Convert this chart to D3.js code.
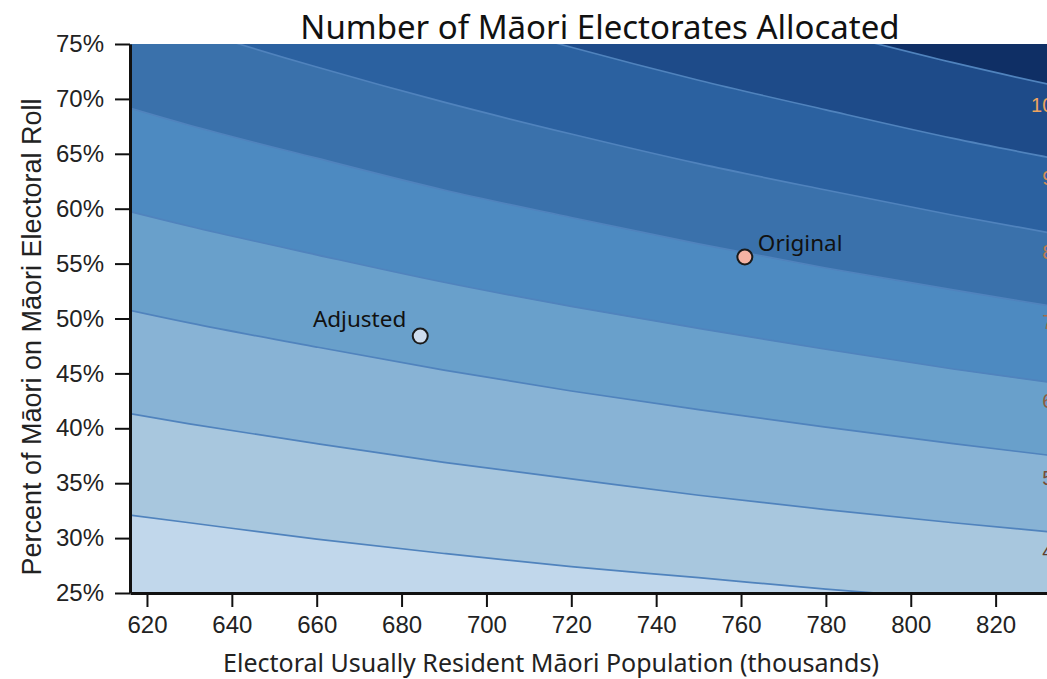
<!DOCTYPE html>
<html>
<head>
<meta charset="utf-8">
<script src="https://cdn.jsdelivr.net/npm/d3@7"></script>
<style>
  body { margin: 0; overflow: hidden; background: #fff; }
</style>
</head>
<body>
<div id="chart"></div>
<script>
var popGrid = [600, 630, 660, 690, 720, 750, 780, 810, 840, 870];

// percent on Maori roll along each boundary between allocations
var edge3to4 = [32.9, 31.4, 29.9, 28.6, 27.4, 26.4, 25.35, 24.45, 23.6, 22.8];
var edge4to5 = [42.4, 40.4, 38.6, 36.9, 35.4, 33.9, 32.6, 31.4, 30.3, 29.3];
var edge5to6 = [52.1, 49.6, 47.4, 45.3, 43.4, 41.7, 40.1, 38.6, 37.2, 35.9];
var edge6to7 = [61.3, 58.4, 55.8, 53.3, 51.1, 49.1, 47.2, 45.4, 43.8, 42.3];
var edge7to8 = [71.0, 67.6, 64.6, 61.7, 59.2, 56.8, 54.6, 52.6, 50.7, 49.0];
var edge8to9 = [80.2, 76.4, 72.9, 69.7, 66.8, 64.1, 61.7, 59.4, 57.3, 55.3];
var edge9to10 = [89.7, 85.4, 81.5, 78.0, 74.7, 71.7, 69.0, 66.4, 64.1, 61.8];
var edge10to11 = [99.0, 94.3, 90.0, 86.1, 82.5, 79.2, 76.2, 73.3, 70.7, 68.3];

var bandValues = [3, 4, 5, 6, 7, 8, 9, 10, 11];
var bandColors = ["#c1d7eb", "#a8c7de", "#88b3d5", "#69a0cb", "#4d8ac1",
                  "#3a71ab", "#2b61a0", "#1e4b89", "#0f2f65"];

var labelValues = [4, 5, 6, 7, 8, 9, 10];
var labelPct = [28.8, 35.5, 42.5, 49.7, 56.1, 62.8, 69.4];
var labelColors = ["#5c3e2f", "#764d38", "#8f5c41", "#a66b4b", "#bd7c55", "#d48e5b", "#eda35f"];
var labelPop = 833.6;

var pointNames = ["Original", "Adjusted"];
var pointPop = [760.9, 684.4];
var pointPct = [55.6, 48.4];
var pointColors = ["#f5b3a3", "#cddcee"];

var xTicks = [620, 640, 660, 680, 700, 720, 740, 760, 780, 800, 820, 840];
var yTicks = [25, 30, 35, 40, 45, 50, 55, 60, 65, 70, 75];

(function () {
  var width = 1100,
    height = 679;

  var left = 130, right = 1072, top = 44, bottom = 593;

  var svg = d3.select("#chart")
    .append("svg")
    .attr("width", width)
    .attr("height", height)

  var x = d3.scaleLinear().domain([616, 838]).range([left, right]);
  var y = d3.scaleLinear().domain([25, 75]).range([bottom, top]);

  svg.append("clipPath")
    .attr("id", "plot-clip")
    .append("rect")
    .attr("x", left)
    .attr("y", top)
    .attr("width", right - left)
    .attr("height", bottom - top)

  var plot = svg.append("g").attr("clip-path", "url(#plot-clip)")

  // lowest band fills everything, higher ones are painted above each edge
  plot.append("rect")
    .attr("x", left)
    .attr("y", top)
    .attr("width", right - left)
    .attr("height", bottom - top)
    .attr("fill", bandColors[0])

  var edges = [edge3to4, edge4to5, edge5to6, edge6to7, edge7to8, edge8to9, edge9to10, edge10to11];

  var edgeData = edges.map(function (vals) {
    return popGrid.map(function (p, i) { return [p, vals[i]]; });
  })

  var area = d3.area()
    .x(function (d) { return x(d[0]); })
    .y0(y(110))
    .y1(function (d) { return y(d[1]); })
    .curve(d3.curveMonotoneX)

  var line = d3.line()
    .x(function (d) { return x(d[0]); })
    .y(function (d) { return y(d[1]); })
    .curve(d3.curveMonotoneX)

  plot.selectAll(".band")
    .data(edgeData)
    .enter().append("path")
    .attr("class", "band")
    .attr("d", area)
    .attr("fill", function (d, i) { return bandColors[i + 1]; })

  plot.selectAll(".edge")
    .data(edgeData)
    .enter().append("path")
    .attr("class", "edge")
    .attr("d", line)
    .attr("fill", "none")
    .attr("stroke", "#5083bd")
    .attr("stroke-width", 1.7)

  // contour labels at the right edge
  svg.selectAll(".clabel")
    .data(labelValues)
    .enter().append("text")
    .attr("class", "clabel")
    .attr("x", x(labelPop))
    .attr("y", function (d, i) { return y(labelPct[i]); })
    .attr("dy", "0.35em")
    .attr("text-anchor", "end")
    .attr("font-family", "'Liberation Sans', Arial, sans-serif")
    .attr("font-size", "20px")
    .attr("fill", function (d, i) { return labelColors[i]; })
    .text(function (d) { return d; })

  // axes
  svg.append("g")
    .attr("transform", "translate(" + left + ",0)")
    .call(d3.axisLeft(y).tickValues(yTicks).tickSize(15).tickSizeOuter(0).tickPadding(11)
      .tickFormat(function (d) { return d + "%"; }))

  svg.append("g")
    .attr("transform", "translate(0," + bottom + ")")
    .call(d3.axisBottom(x).tickValues(xTicks).tickSize(14).tickSizeOuter(0).tickPadding(9))

  svg.selectAll(".domain").attr("stroke", "#111").attr("stroke-width", 3)
  svg.selectAll(".tick line").attr("stroke", "#111").attr("stroke-width", 2)
  svg.selectAll(".tick text")
    .attr("font-family", "'Liberation Sans', Arial, sans-serif")
    .attr("font-size", "24px")
    .attr("fill", "#222")

  // marked points
  var marks = svg.selectAll(".mark")
    .data(pointNames)
    .enter().append("g")
    .attr("class", "mark")

  marks.append("circle")
    .attr("cx", function (d, i) { return x(pointPop[i]); })
    .attr("cy", function (d, i) { return y(pointPct[i]); })
    .attr("r", 7.5)
    .attr("fill", function (d, i) { return pointColors[i]; })
    .attr("stroke", "#1a1a1a")
    .attr("stroke-width", 2)

  marks.append("text")
    .attr("x", function (d, i) { return x(pointPop[i]) + (i === 0 ? 13 : -14); })
    .attr("y", function (d, i) { return y(pointPct[i]) + (i === 0 ? -6 : -9); })
    .attr("text-anchor", function (d, i) { return i === 0 ? "start" : "end"; })
    .attr("font-family", "'Noto Sans', sans-serif")
    .attr("font-size", "22.5px")
    .attr("fill", "#111")
    .text(function (d) { return d; })

  // titles
  svg.append("text")
    .attr("x", 600)
    .attr("y", 39)
    .attr("text-anchor", "middle")
    .attr("font-family", "'Noto Sans', sans-serif")
    .attr("font-size", "33px")
    .attr("fill", "#111")
    .text("Number of Māori Electorates Allocated")

  svg.append("text")
    .attr("x", 551)
    .attr("y", 672)
    .attr("text-anchor", "middle")
    .attr("font-family", "'Noto Sans', sans-serif")
    .attr("font-size", "25px")
    .attr("fill", "#222")
    .text("Electoral Usually Resident Māori Population (thousands)")

  svg.append("text")
    .attr("transform", "translate(41,337) rotate(-90)")
    .attr("text-anchor", "middle")
    .attr("font-family", "'Liberation Sans', Arial, sans-serif")
    .attr("font-size", "27px")
    .attr("fill", "#222")
    .text("Percent of Māori on Māori Electoral Roll")
})();
</script>
</body>
</html>
